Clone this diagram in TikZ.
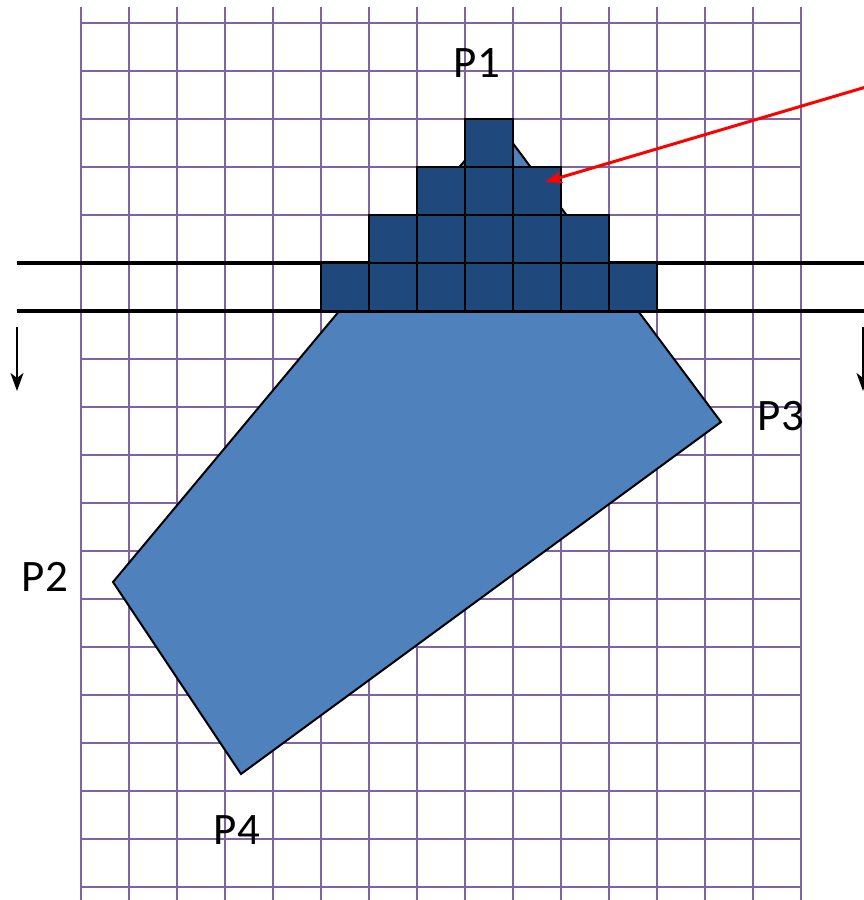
\documentclass[tikz,border=0pt]{standalone}
\usepackage{fontspec}
\setmainfont{Carlito}
\usetikzlibrary{arrows.meta}
\definecolor{gridpurple}{RGB}{128,100,162}
\definecolor{polyblue}{RGB}{79,129,189}
\definecolor{darkblue}{RGB}{31,73,125}
\begin{document}
\begin{tikzpicture}[x=1pt,y=-1pt,
  gridline/.style={draw=gridpurple,line width=2pt},
  sq/.style={fill=darkblue,draw=black,line width=2.6pt},
  thickline/.style={draw=black,line width=4pt},
  downarrow/.style={draw=black,line width=1.8pt,-{Stealth[length=18pt,width=13pt,inset=5pt]}},
  redarrow/.style={draw=red,line width=3pt,-{Stealth[length=17pt,width=12pt,inset=4pt]}},
  lbl/.style={inner sep=0pt,font=\fontsize{45}{45}\selectfont}]
\useasboundingbox (0,0) rectangle (864,900);
\fill[white] (0,0) rectangle (864,900);
% grid
\foreach \i in {0,...,15} \draw[gridline] ({81+48*\i},7) -- ({81+48*\i},900);
\foreach \j in {0,...,18} \draw[gridline] (81,{23+48*\j}) -- (801,{23+48*\j});
% polygon
\coordinate (P1) at (497,122);
\coordinate (P3) at (721,422);
\coordinate (P4) at (241,774);
\coordinate (P2) at (113,582);
\filldraw[fill=polyblue,draw=black,line width=2pt,line join=miter] (P1) -- (P3) -- (P4) -- (P2) -- cycle;
% horizontal thick lines
\coordinate (l1a) at (17,263); \coordinate (l1b) at (864,263);
\coordinate (l2a) at (17,311); \coordinate (l2b) at (864,311);
\draw[thickline] (l1a) -- (l1b);
\draw[thickline] (l2a) -- (l2b);
% squares
\foreach \r/\n in {0/0,1/2,2/4,3/6} {
  \foreach \c in {0,...,\n} {
    \draw[sq] ({465-48*\r+48*\c},{119+48*\r}) rectangle ++(48,48);
  }
}
% down arrows
\coordinate (dla) at (17,327); \coordinate (dlb) at (17,391);
\coordinate (dra) at (863,327); \coordinate (drb) at (863,391);
\draw[downarrow] (dla) -- (dlb);
\draw[downarrow] (dra) -- (drb);
% red arrow
\coordinate (ra) at (866,87);
\coordinate (rb) at (545,182);
\draw[redarrow] (ra) -- (rb);
% labels
\node[lbl] (t1) at (477,63) {P1};
\node[lbl] (t3) at (781,416) {P3};
\node[lbl] (t2) at (45,577) {P2};
\node[lbl] (t4) at (237,830) {P4};
\end{tikzpicture}
\end{document}
